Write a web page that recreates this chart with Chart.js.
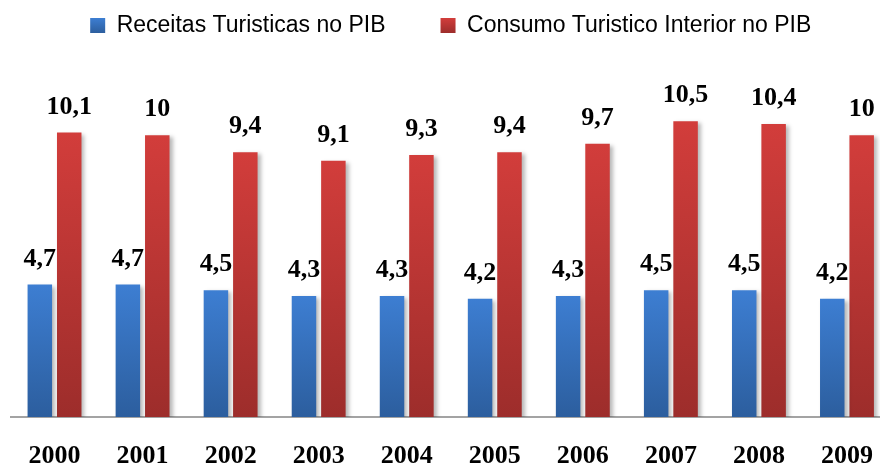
<!DOCTYPE html>
<html>
<head>
<meta charset="utf-8">
<script src="https://cdn.jsdelivr.net/npm/chart.js@4.4.1/dist/chart.umd.min.js"></script>
<style>
  html, body { margin: 0; padding: 0; background: #fff; }
  #wrap { width: 880px; height: 467px; overflow: hidden; position: relative; }
  canvas { position: absolute; left: 0; top: 0; }
</style>
</head>
<body>
<div id="wrap"><canvas id="turismoChart" width="900" height="467"></canvas></div>
<script>
const years = ['2000', '2001', '2002', '2003', '2004', '2005', '2006', '2007', '2008', '2009'];
const receitas = [4.7, 4.7, 4.5, 4.3, 4.3, 4.2, 4.3, 4.5, 4.5, 4.2];
const consumo = [10.1, 10, 9.4, 9.1, 9.3, 9.4, 9.7, 10.5, 10.4, 10];
const seriesNames = ['Receitas Turisticas no PIB', 'Consumo Turistico Interior no PIB'];

const blueTop = '#3d7ed2', blueBottom = '#2c5e9e';
const redTop = '#d23d3b', redBottom = '#9d2d2b';

// gradient per bar, from its top down to the baseline
function barFill(top, bottom) {
    return (c) => {
        const chart = c.chart;
        if (c.type !== 'data' || !chart.chartArea || !chart.scales.y) return top;
        const y = chart.scales.y;
        const g = chart.ctx.createLinearGradient(0, y.getPixelForValue(c.parsed.y), 0, y.getPixelForValue(0));
        g.addColorStop(0, top);
        g.addColorStop(1, bottom);
        return g;
    };
}

const barStyle = {
    id: 'barStyle',
    beforeInit(chart) {
        // extra room under the legend
        const legend = chart.legend;
        const fit = legend.fit;
        legend.fit = function () { fit.call(this); this.height += 32; };
    },
    beforeDatasetsDraw(chart) {
        const ctx = chart.ctx;
        ctx.save();
        ctx.shadowColor = 'rgba(0,0,0,0.28)';
        ctx.shadowBlur = 4;
        ctx.shadowOffsetX = 3;
        ctx.shadowOffsetY = 2;
    },
    afterDatasetsDraw(chart) {
        const ctx = chart.ctx;
        ctx.restore();
        ctx.save();
        ctx.font = 'bold 26px "Liberation Serif", serif';
        ctx.fillStyle = '#000';
        ctx.textAlign = 'center';
        ctx.textBaseline = 'alphabetic';
        chart.data.datasets.forEach((ds, i) => {
            chart.getDatasetMeta(i).data.forEach((bar, j) => {
                ctx.fillText(String(ds.data[j]).replace('.', ','), bar.x, bar.y - 19);
            });
        });
        ctx.restore();
    }
};

const ctx = document.getElementById('turismoChart').getContext('2d');
const turismoChart = new Chart(ctx, {
    type: 'bar',
    data: {
        labels: years,
        datasets: [{
            label: seriesNames[0],
            data: receitas,
            backgroundColor: barFill(blueTop, blueBottom),
            _legendColors: [blueTop, blueBottom]
        }, {
            label: seriesNames[1],
            data: consumo,
            backgroundColor: barFill(redTop, redBottom),
            _legendColors: [redTop, redBottom]
        }]
    },
    options: {
        responsive: false,
        animation: false,
        categoryPercentage: 0.668,
        barPercentage: 0.833,
        layout: { padding: { top: -41, left: 10.5, right: 9, bottom: 0 } },
        plugins: {
            tooltip: { enabled: false },
            legend: {
                position: 'top',
                labels: {
                    boxWidth: 15,
                    boxHeight: 15,
                    padding: 55,
                    color: '#000',
                    font: { family: '"Liberation Sans", Arial, sans-serif', size: 23 },
                    generateLabels(chart) {
                        return chart.data.datasets.map((ds, i) => {
                            const g = chart.ctx.createLinearGradient(0, 18, 0, 33);
                            g.addColorStop(0, ds._legendColors[0]);
                            g.addColorStop(1, ds._legendColors[1]);
                            return {
                                text: ds.label,
                                fillStyle: g,
                                strokeStyle: 'rgba(0,0,0,0)',
                                lineWidth: 0,
                                fontColor: '#000',
                                hidden: false,
                                datasetIndex: i
                            };
                        });
                    }
                }
            }
        },
        scales: {
            x: {
                grid: { display: false },
                border: { display: true, color: '#a3a3a3', width: 2 },
                ticks: {
                    color: '#000',
                    padding: 16,
                    font: { family: '"Liberation Serif", serif', size: 26, weight: 'bold' }
                },
                afterFit(scale) { scale.height = 50; }
            },
            y: {
                display: false,
                min: 0,
                max: 12
            }
        }
    },
    plugins: [barStyle]
});
</script>
</body>
</html>
